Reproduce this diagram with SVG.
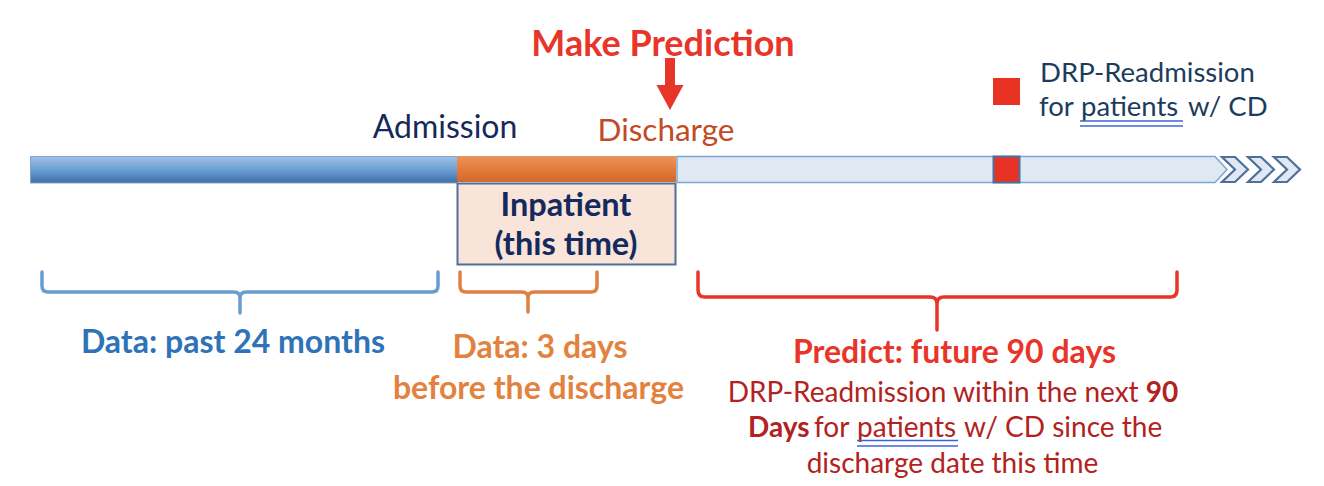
<svg xmlns="http://www.w3.org/2000/svg" width="1324" height="486" viewBox="0 0 1324 486">
<defs>
<style>
text{font-family:Lato,"Open Sans",sans-serif}
.b{font-weight:bold}
.brace{fill:none;stroke-width:3.5;stroke-linecap:round;stroke-linejoin:round}
.ul{stroke:#3E64D0;stroke-width:1.6}
</style>
<linearGradient id="gBlue" x1="0" y1="0" x2="0" y2="1">
<stop offset="0" stop-color="#A3C1E4"/><stop offset="0.5" stop-color="#6B9FD3"/><stop offset="1" stop-color="#3F6DA3"/>
</linearGradient>
<linearGradient id="gOr" x1="0" y1="0" x2="0" y2="1">
<stop offset="0" stop-color="#E9945E"/><stop offset="0.5" stop-color="#E57B3A"/><stop offset="1" stop-color="#D0682D"/>
</linearGradient>
</defs>
<g id="timeline">
<path d="M677,156.5 L1215,156.5 L1227,169.5 L1215,182.5 L677,182.5 Z" fill="#DFE8F3" stroke="#7EA5D3" stroke-width="1.5"/>
<g fill="#DFE8F3" stroke="#4E6F99" stroke-width="2.2" stroke-linejoin="miter">
<path d="M1222,157 L1235,157 L1248,169.5 L1235,182 L1222,182 L1235,169.5 Z"/>
<path d="M1248,157 L1261,157 L1274,169.5 L1261,182 L1248,182 L1261,169.5 Z"/>
<path d="M1274,157 L1287,157 L1300,169.5 L1287,182 L1274,182 L1287,169.5 Z"/>
</g>
<rect x="30.5" y="156.5" width="427" height="26.5" fill="url(#gBlue)" stroke="#7EA5D3" stroke-width="1"/>
<rect x="457" y="156" width="219" height="26" fill="url(#gOr)"/>
<rect x="993.5" y="156.5" width="26" height="26" fill="#E83324" stroke="#4E6F99" stroke-width="2"/>
</g>
<g id="inpatient">
<rect x="457.5" y="183.5" width="218" height="81" fill="#F8E4D8" stroke="#4E6F99" stroke-width="2"/>
<text x="566" y="216" text-anchor="middle" class="b" font-size="32.5" fill="#142A5E">Inpatient</text>
<text x="566" y="255" text-anchor="middle" class="b" font-size="32.5" fill="#142A5E">(this time)</text>
</g>
<g id="make-prediction">
<text x="663" y="56" text-anchor="middle" class="b" font-size="36" fill="#E8352A">Make Prediction</text>
</g>
<g id="admission"><text x="445" y="138" text-anchor="middle" font-size="32" fill="#17295A">Admission</text></g>
<g id="discharge"><text x="666" y="141" text-anchor="middle" font-size="31.5" fill="#C24A26">Discharge</text></g>
<g id="legend">
<rect x="993" y="78" width="27" height="27" fill="#E83324"/>
<text x="1040" y="82" font-size="27.5" fill="#1C3C5E">DRP-Readmission</text>
<text y="116" font-size="27.5" fill="#1C3C5E"><tspan x="1039">for</tspan><tspan x="1081">patients</tspan><tspan x="1188">w/ CD</tspan></text>
<line class="ul" x1="1080" y1="121" x2="1183" y2="121"/>
<line class="ul" x1="1080" y1="126" x2="1183" y2="126"/>
</g>
<g id="connectors">
<line x1="670" y1="58" x2="670" y2="88" stroke="#E8352A" stroke-width="10"/>
<path d="M656.5,85 L683.5,85 L670,110 Z" fill="#E8352A"/>
<path class="brace" stroke="#6A9BD3" d="M42,272 L42,286 Q42,292 48,292 L234,292 Q240,292 240,298 Q240,292 246,292 L432,292 Q438,292 438,286 L438,272 M240,296 L240,313"/>
<path class="brace" stroke="#E08040" d="M460,272 L460,286 Q460,292 466,292 L522,292 Q528,292 528,298 Q528,292 534,292 L591,292 Q597,292 597,286 L597,272 M528,296 L528,312"/>
<path class="brace" stroke="#E8352A" d="M698,272 L698,290 Q698,297 705,297 L930,297 Q937,297 937,304 Q937,297 944,297 L1170,297 Q1177,297 1177,290 L1177,272 M937,302 L937,330"/>
</g>
<g id="label-past">
<text x="233" y="353" text-anchor="middle" class="b" font-size="32" fill="#2E73B8">Data: past 24 months</text>
</g>
<g id="label-3days">
<text x="540" y="358" text-anchor="middle" class="b" font-size="32" fill="#E3823F">Data: 3 days</text>
<text x="538.5" y="399" text-anchor="middle" class="b" font-size="32" fill="#E3823F">before the discharge</text>
</g>
<g id="label-predict">
<text x="954.5" y="363" text-anchor="middle" class="b" font-size="32" fill="#E8352A">Predict: future 90 days</text>
<g font-size="28" fill="#B2221E">
<text x="953" y="401.5" text-anchor="middle">DRP-Readmission within the next <tspan class="b">90</tspan></text>
<text y="437"><tspan x="748" class="b">Days</tspan><tspan x="814">for</tspan><tspan x="857">patients</tspan><tspan x="964">w/ CD since the</tspan></text>
<text x="952.5" y="473" text-anchor="middle">discharge date this time</text>
</g>
<line class="ul" x1="857" y1="440.5" x2="958" y2="440.5"/>
<line class="ul" x1="857" y1="446" x2="958" y2="446"/>
</g>
</svg>
